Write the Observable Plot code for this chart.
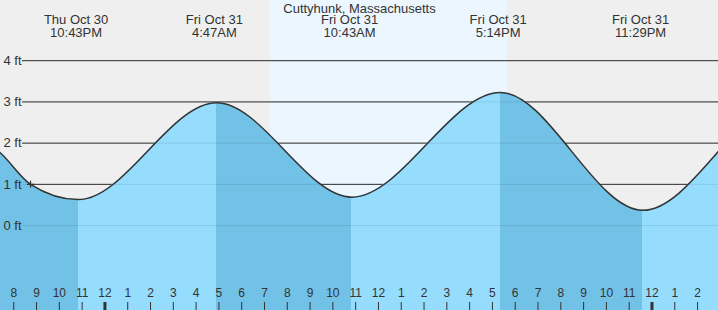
<!DOCTYPE html>
<html><head><meta charset="utf-8">
<script src="https://cdn.jsdelivr.net/npm/d3@7"></script>
<script src="https://cdn.jsdelivr.net/npm/@observablehq/plot@0.6"></script>
<style>
html,body{margin:0;padding:0;background:#fff;}
#chart svg{display:block}
</style></head><body><div id="chart"></div>
<script>
// ---- data ----
const title = "Cuttyhunk, Massachusetts";
// tide curve: extremes plus two readings on the left edge (first two and last two points lie outside the window)
const tideTimes = ["2025-10-30T10:15","2025-10-30T16:30","2025-10-30T19:18","2025-10-30T20:37","2025-10-30T22:43","2025-10-31T04:47","2025-10-31T10:43","2025-10-31T17:14","2025-10-31T23:29","2025-11-01T05:50","2025-11-01T11:55"];
const tideHeights = [0.55, 2.6, 1.76, 1.0, 0.63, 2.98, 0.69, 3.23, 0.37, 3.05, 0.6];
// labelled extremes
const extremeStamps = ["2025-10-30T22:43","2025-10-31T04:47","2025-10-31T10:43","2025-10-31T17:14","2025-10-31T23:29"];
const extremeDates = ["Thu Oct 30","Fri Oct 31","Fri Oct 31","Fri Oct 31","Fri Oct 31"];
const extremeTimes = ["10:43PM","4:47AM","10:43AM","5:14PM","11:29PM"];
// daylight window
const daylight = ["2025-10-31T07:09","2025-10-31T17:33"];
// current-time marker
const nowStamp = "2025-10-30T20:37";
const nowHeight = 1.0;
// axes
const yTicks = [0,1,2,3,4];
const yTickLabels = ["0 ft","1 ft","2 ft","3 ft","4 ft"];
const hourStart = "2025-10-30T20:00";
const hourLabels = ["8","9","10","11","12","1","2","3","4","5","6","7","8","9","10","11","12","1","2","3","4","5","6","7","8","9","10","11","12","1","2"];
const viewStart = "2025-10-30T19:18", viewEnd = "2025-11-01T02:48";

// ---- build ----
const parse = d3.timeParse("%Y-%m-%dT%H:%M");
const W = 718, H = 310;
const xDomain = [parse(viewStart), parse(viewEnd)];
const yDomain = [-2.06, 5.46];
const tide = tideTimes.map((t,i)=>({time: parse(t), h: tideHeights[i]}));
const extremes = extremeStamps.map((t,i)=>({time: parse(t), label: extremeDates[i] + "\n" + extremeTimes[i]}));
const ticks = hourLabels.map((l,i)=>({time: d3.timeHour.offset(parse(hourStart), i), label: l}));
const midnight = ticks.filter(d => d.time.getHours() === 0);
const regular = ticks.filter(d => d.time.getHours() !== 0);
const font = "'Liberation Sans', Arial, Helvetica, sans-serif";
const ink = "#333";
const light = "#95dcfd", dark = "#72c1e6";

const plusSymbol = {draw(ctx, size){ const r = Math.sqrt(size/Math.PI); ctx.moveTo(-r,0); ctx.lineTo(r,0); ctx.moveTo(0,-r); ctx.lineTo(0,r); }};

const chart = Plot.plot({
  width: W, height: H, margin: 0,
  x: {type: "time", domain: xDomain, range: [0, W], axis: null},
  y: {domain: yDomain, range: [H, 0], axis: null},
  style: {fontFamily: font, background: "#efefef", color: ink, overflow: "hidden"},
  marks: [
    Plot.rect([daylight.map(parse)], {x1: d => d[0], x2: d => d[1], fill: "#ebf6fe"}),
    Plot.ruleY(yTicks, {stroke: ink, strokeWidth: 1, insetLeft: 22}),
    Plot.areaY(tide, {x: "time", y1: yDomain[0], y2: "h", curve: "monotone-x", fill: "url(#tideBands)", clip: true}),
    Plot.ruleY(yTicks, {stroke: "#000", strokeOpacity: 0.09, strokeWidth: 1, insetLeft: 22}),
    Plot.line(tide, {x: "time", y: "h", curve: "monotone-x", stroke: ink, strokeWidth: 1.5, clip: true}),
    Plot.dot([{time: parse(nowStamp), h: nowHeight}], {x: "time", y: "h", r: 3.5, symbol: plusSymbol, stroke: ink, fill: "none", strokeWidth: 1.2}),
    Plot.text([title], {text: d => d, frameAnchor: "top", dy: 3.5, fontSize: 13, fill: ink}),
    Plot.text(extremes, {x: "time", text: "label", frameAnchor: "top", lineAnchor: "top", dy: 14.3, dx: -2.3, fontSize: 13, lineHeight: 1, fill: ink}),
    Plot.text(yTicks, {y: d => d, text: (d,i) => yTickLabels[i], frameAnchor: "left", textAnchor: "start", dx: 3, fontSize: 13, fill: ink}),
    Plot.ruleX(regular, {x: "time", insetTop: 302, stroke: ink, strokeWidth: 1, dx: -2.7}),
    Plot.ruleX(midnight, {x: "time", insetTop: 302, stroke: ink, strokeWidth: 3, dx: -2.7}),
    Plot.text(ticks, {x: "time", text: "label", frameAnchor: "bottom", dy: -13.8, dx: -2.7, fontSize: 12, fill: ink})
  ]
});

// gradient that colours the water: falling tide dark, rising tide light
const xs = chart.scale("x");
const px = t => (xs.apply ? xs.apply(t) : d3.scaleTime(xDomain, [0, W])(t));
const gx0 = px(tide[0].time), gx1 = px(tide[tide.length-1].time);
const grad = d3.select(chart).insert("defs", ":first-child")
  .append("linearGradient").attr("id", "tideBands")
  .attr("gradientUnits", "userSpaceOnUse")
  .attr("x1", gx0).attr("x2", gx1).attr("y1", 0).attr("y2", 0);
for (let i = 0; i < tide.length - 1; i++) {
  const c = tide[i].h > tide[i+1].h ? dark : light;
  const o0 = (px(tide[i].time) - gx0) / (gx1 - gx0);
  const o1 = (px(tide[i+1].time) - gx0) / (gx1 - gx0);
  grad.append("stop").attr("offset", o0).attr("stop-color", c);
  grad.append("stop").attr("offset", o1).attr("stop-color", c);
}
document.getElementById("chart").appendChild(chart);
</script>
</body></html>
